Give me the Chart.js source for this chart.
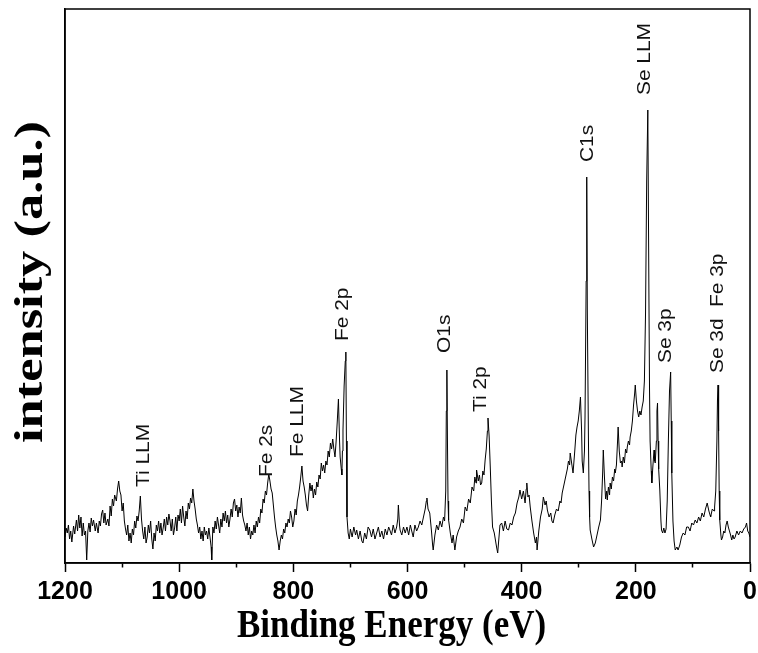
<!DOCTYPE html>
<html>
<head>
<meta charset="utf-8">
<title>XPS survey</title>
<script src="https://cdn.jsdelivr.net/npm/chart.js@4.4.1/dist/chart.umd.min.js"></script>
<style>
  html, body { margin: 0; padding: 0; background: #fff; }
  canvas { display: block; }
</style>
</head>
<body>
<canvas id="xpsSurvey" width="758" height="653"></canvas>
<script>
// binding energy (eV) from left to right
const energies = [
  1200, 1198, 1196, 1194, 1192, 1190, 1188, 1185, 1183, 1180, 1178, 1176, 1174, 1172, 1170, 1168,
  1166, 1164, 1162, 1160, 1158, 1156, 1154, 1152, 1150, 1147, 1145, 1142, 1140, 1138, 1136, 1134,
  1132, 1130, 1128, 1125, 1123, 1121, 1119, 1117, 1115, 1113, 1110, 1108, 1106, 1104, 1102, 1100,
  1098, 1096, 1094, 1092, 1090, 1088, 1086, 1084, 1082, 1080, 1078, 1076, 1074, 1072, 1070, 1068,
  1066, 1064, 1062, 1060, 1058, 1056, 1054, 1052, 1050, 1048, 1046, 1044, 1042, 1040, 1038, 1036,
  1034, 1032, 1030, 1028, 1026, 1024, 1022, 1020, 1018, 1016, 1014, 1012, 1010, 1008, 1006, 1004,
  1002, 1000,
  998, 996, 994, 992, 990, 988, 986, 984, 982, 980, 978, 976, 974, 972, 970, 968,
  966, 964, 962, 960, 958, 956, 954, 952, 950, 948, 946, 944, 943, 941, 939, 937,
  935, 933, 931, 929, 927, 925, 923, 921, 919, 917, 915, 913, 911, 909, 907, 905,
  903, 901, 899, 897, 895, 893, 891, 889, 887, 885, 883, 881, 879, 877, 875, 873,
  871, 869, 867, 865, 863, 861, 859, 857, 855, 853, 851, 849, 847, 845, 843, 841,
  839, 837, 835, 833, 831, 829, 827, 825, 823, 821, 819, 817, 815, 813, 811, 809,
  807, 805, 803, 801,
  799, 797, 795, 793, 791, 789, 787, 785, 783, 781, 779, 777, 775, 773, 771, 769,
  767, 765, 763, 761, 759, 757, 755, 753, 751, 749, 747, 745, 743, 741, 739, 737,
  735, 733, 731, 729, 727, 725, 723, 721, 719, 718, 716, 715, 714, 713, 711, 709,
  708, 707, 706,
  704, 702, 700, 697, 694, 691, 689, 686, 683, 680, 678, 675, 672, 669, 666, 663,
  660, 657, 654, 651, 648, 645, 642, 639, 636, 633, 631, 628, 625, 622, 619, 617,
  616, 614, 613, 610, 607, 604, 601, 598, 595, 593, 590, 587, 584, 581, 578, 575,
  572, 569, 567, 566, 564, 561, 558, 556, 555,
  552, 549, 546, 543, 540, 537, 535, 533, 532, 531, 530, 529, 528, 525, 522, 520,
  517, 514, 511, 508, 505, 502, 499, 496, 493, 490, 487, 484, 482, 480, 479, 476,
  474, 472, 470, 468, 466, 464, 462, 460, 459, 457, 455, 453, 451, 448, 446, 444,
  442, 440, 438, 435, 432, 429, 426, 423, 420, 417, 414, 411, 408, 405, 403, 400,
  397, 394, 392, 391, 389, 387, 385, 382, 379, 376, 374, 373, 370, 367, 364, 362,
  359, 357, 355, 352, 349, 347, 345, 342, 339, 336, 333, 331, 329, 326, 323, 320,
  318, 316, 315, 313, 311, 310, 307, 305, 303, 301, 299, 297, 295, 294, 292, 290,
  289, 287, 286, 285, 283, 282, 281, 280,
  277, 274, 271, 268, 265, 262, 260, 258, 257, 255, 253, 251, 250, 248, 246, 245,
  243, 241, 239, 237, 236, 234, 232, 231, 229, 227, 225, 224, 222, 220, 218, 216,
  215, 213, 211, 210, 208, 206, 204, 202, 201, 199, 197, 195,
  193, 191, 189, 187, 185, 183, 181, 179, 177, 176, 175, 173, 172, 170,
  169, 168, 167, 166, 164, 163, 162, 161, 160, 158, 156, 155, 153, 151, 149, 147,
  145, 143, 141, 139, 138, 137, 135, 133, 131, 128, 126, 123, 120, 117, 114, 111,
  108, 105, 102, 99, 96, 93, 90, 87, 84, 81, 78, 75, 72, 70, 69, 66,
  63, 62, 60, 58, 57, 56, 55, 54, 53, 51, 50, 48, 46, 44, 42, 40,
  38, 36, 34, 32, 30, 28, 26, 23, 20, 17, 14, 11, 8, 6, 4, 2,
  0
];

// intensity (a.u.), same order as energies
const intensity = [
  24, 33, 28, 36, 22, 30, 19, 35, 27, 41, 30, 46, 33, 44, 25, 38,
  26, 30, 1, 30, 38, 29, 43, 35, 41, 30, 38, 28, 40, 35, 47, 51,
  38, 48, 36, 42, 35, 55, 45, 62, 55, 66, 60, 72, 80, 70, 66, 50,
  58, 40, 32, 26, 36, 20, 28, 18, 32, 26, 40, 33, 45, 40, 50, 65,
  42, 30, 22, 34, 18, 24, 36, 28, 40, 22, 12, 28, 20, 36, 30, 40,
  28, 38, 26, 33, 42, 30, 44, 36, 47, 40, 30, 42, 26, 33, 44, 30,
  46, 40,
  52, 38, 55, 44, 35, 50, 42, 58, 52, 63, 58, 72, 60, 52, 42, 36,
  28, 34, 22, 30, 20, 34, 26, 30, 22, 33, 24, 14, 1, 34, 28, 40,
  32, 44, 36, 28, 42, 34, 48, 40, 50, 38, 46, 34, 42, 52, 44, 58,
  62, 50, 56, 44, 54, 48, 63, 46, 40, 36, 30, 38, 26, 34, 22, 30,
  26, 36, 28, 40, 34, 44, 38, 52, 48, 62, 58, 70, 66, 78, 87, 80,
  72, 68, 56, 44, 34, 26, 20, 11, 20, 26, 22, 32, 28, 38, 34, 42,
  38, 50, 44, 34,
  40, 52, 46, 60, 66, 74, 84, 95, 80, 74, 66, 56, 50, 66, 78, 70,
  76, 63, 72, 66, 79, 74, 86, 82, 98, 90, 96, 88, 100, 96, 110, 104,
  118, 112, 122, 112, 104, 120, 140, 162, 120, 104, 92, 86, 110, 131, 175, 200,
  209, 120, 44,
  28, 22, 32, 24, 34, 26, 31, 22, 30, 20, 18, 28, 22, 34, 31, 24,
  32, 22, 28, 34, 24, 30, 22, 32, 26, 34, 31, 26, 36, 28, 34, 42,
  56, 36, 31, 26, 34, 28, 34, 26, 36, 31, 24, 36, 30, 34, 40, 36,
  44, 52, 60, 63, 52, 48, 30, 16, 11,
  26, 36, 31, 40, 34, 44, 40, 70, 150, 191, 120, 60, 41, 28, 18, 26,
  11, 24, 30, 34, 42, 38, 54, 50, 62, 58, 74, 70, 84, 78, 91, 80,
  86, 76, 78, 90, 86, 101, 112, 130, 143, 125, 94, 60, 34, 28, 21, 14,
  8, 22, 36, 38, 30, 40, 32, 31, 38, 36, 44, 48, 58, 64, 71, 62,
  70, 58, 72, 78, 64, 66, 54, 40, 28, 18, 24, 11, 30, 44, 52, 64,
  56, 60, 51, 44, 48, 40, 38, 46, 52, 50, 60, 58, 68, 76, 84, 92,
  100, 96, 108, 100, 92, 88, 110, 126, 134, 140, 150, 164, 130, 100, 88, 110,
  144, 280, 384, 250, 120, 70, 44, 31,
  22, 14, 18, 26, 34, 41, 60, 90, 111, 84, 62, 70, 61, 74, 66, 78,
  72, 84, 80, 92, 88, 96, 120, 134, 110, 98, 100, 94, 104, 98, 112, 108,
  114, 120, 116, 124, 130, 140, 156, 168, 176, 160, 150, 144,
  150, 146, 154, 160, 180, 248, 380, 451, 260, 170, 120, 90, 78, 96,
  104, 111, 100, 98, 120, 150, 158, 120, 92, 71, 40, 31, 28, 33, 28, 32,
  60, 120, 170, 189, 140, 88, 40, 20, 11, 14, 11, 16, 24, 28, 26, 34,
  34, 30, 38, 36, 41, 38, 44, 40, 48, 44, 52, 58, 50, 46, 44, 52,
  50, 54, 70, 120, 160, 176, 130, 70, 41, 26, 21, 24, 30, 28, 36, 40,
  34, 30, 26, 21, 26, 22, 24, 30, 26, 30, 28, 32, 34, 38, 30, 28,
  24
];

const xTicks = [1200, 1000, 800, 600, 400, 200, 0];

// peak annotations: name, energy under the text, intensity where the text starts
const peakNames = ['Ti LLM', 'Fe 2s', 'Fe LLM', 'Fe 2p', 'O1s', 'Ti 2p', 'C1s', 'Se LLM', 'Se 3p', 'Se 3d', 'Fe 3p'];
const peakEnergies = [1062, 846, 792, 713, 534, 471, 285, 184, 148, 57, 57];
const peakLevels = [74, 84, 104, 220, 208, 149, 399, 466, 198, 188, 254];

const serif = '"Liberation Serif", "Times New Roman", serif';

// the original figure is stretched vertically, so its titles are drawn stretched too
function stretchedText(ctx, text, x, y, angle, font, sx, sy) {
    ctx.save();
    ctx.translate(x, y);
    ctx.rotate(angle);
    ctx.scale(sx, sy);
    ctx.font = font;
    ctx.fillText(text, 0, 0);
    ctx.restore();
}

const frame = {
    id: 'frame',
    afterDatasetsDraw(chart) {
        const { ctx, chartArea: a } = chart;
        ctx.save();
        ctx.strokeStyle = '#000';
        ctx.lineWidth = 1.5;
        ctx.strokeRect(a.left, a.top, a.right - a.left, a.bottom - a.top);
        ctx.restore();
    }
};

const titles = {
    id: 'titles',
    afterDraw(chart) {
        const { ctx, chartArea: a } = chart;
        ctx.save();
        ctx.fillStyle = '#000';
        ctx.textAlign = 'center';
        ctx.textBaseline = 'middle';
        stretchedText(ctx, 'Binding Energy (eV)', (a.left + a.right) / 2 - 16, 627, 0,
            'bold 35px ' + serif, 1, 1.15);
        stretchedText(ctx, 'intensity (a.u.)', 31, (a.top + a.bottom) / 2 - 4, -Math.PI / 2,
            'bold 41px ' + serif, 1.28, 1);
        ctx.restore();
    }
};

const peakLabels = {
    id: 'peakLabels',
    afterDatasetsDraw(chart) {
        const { ctx } = chart;
        const xs = chart.scales.x, ys = chart.scales.y;
        ctx.save();
        ctx.fillStyle = '#111';
        ctx.textAlign = 'left';
        ctx.textBaseline = 'middle';
        peakNames.forEach((name, i) => {
            stretchedText(ctx, name, xs.getPixelForValue(peakEnergies[i]), ys.getPixelForValue(peakLevels[i]),
                -Math.PI / 2, '19px "Liberation Sans", Arial, sans-serif', 1.1, 1);
        });
        ctx.restore();
    }
};

new Chart(document.getElementById('xpsSurvey'), {
    type: 'line',
    data: {
        datasets: [{
            data: energies.map((e, i) => ({ x: e, y: intensity[i] })),
            borderColor: '#000',
            borderWidth: 1,
            pointRadius: 0,
            tension: 0
        }]
    },
    options: {
        responsive: false,
        animation: false,
        layout: { padding: { top: 9, right: 8, left: 0, bottom: 0 } },
        plugins: {
            legend: { display: false },
            tooltip: { enabled: false }
        },
        scales: {
            x: {
                type: 'linear',
                reverse: true,
                min: 0,
                max: 1200,
                ticks: {
                    stepSize: 100,
                    autoSkip: false,
                    maxRotation: 0,
                    padding: 5,
                    color: '#000',
                    font: { family: '"Liberation Sans", Arial, sans-serif', size: 25, weight: 'bold' },
                    callback: v => xTicks.includes(v) ? v : ''
                },
                grid: {
                    drawOnChartArea: false,
                    tickLength: 9,
                    tickColor: '#000',
                    tickWidth: 1.5,
                    tickBorderDash: c => (c.tick && !xTicks.includes(c.tick.value)) ? [4, 20] : []
                },
                border: { color: '#000', width: 1.5 },
                title: { display: false },
                afterFit: s => { s.height = 90; s.paddingRight = 0; }
            },
            y: {
                min: -2,
                max: 552,
                ticks: { display: false },
                grid: { display: false, drawTicks: false },
                border: { color: '#000', width: 1.5 },
                title: { display: false },
                afterFit: s => { s.width = 65; }
            }
        }
    },
    plugins: [frame, peakLabels, titles]
});
</script>
</body>
</html>
